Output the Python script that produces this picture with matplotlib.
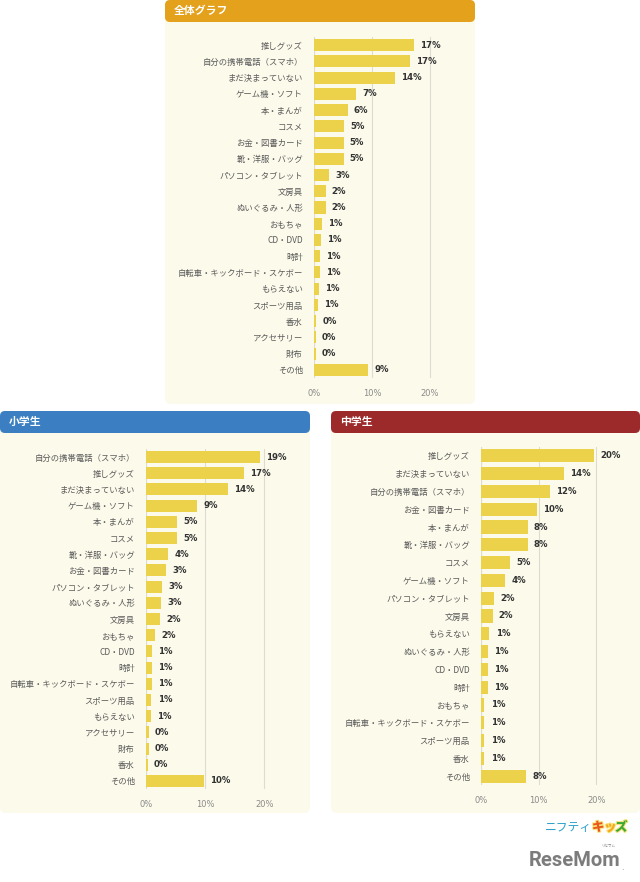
import matplotlib
matplotlib.use('Agg')
import matplotlib.pyplot as plt
import matplotlib.patheffects as pe
from matplotlib.patches import FancyBboxPatch
import numpy as np

plt.rcParams['font.family'] = ['Noto Sans CJK JP', 'DejaVu Sans']

# 全体グラフ
all_cats = ['推しグッズ', '自分の携帯電話（スマホ）', 'まだ決まっていない', 'ゲーム機・ソフト', '本・まんが',
            'コスメ', 'お金・図書カード', '靴・洋服・バッグ', 'パソコン・タブレット', '文房具',
            'ぬいぐるみ・人形', 'おもちゃ', 'CD・DVD', '時計', '自転車・キックボード・スケボー',
            'もらえない', 'スポーツ用品', '香水', 'アクセサリー', '財布', 'その他']
all_vals = [17.2, 16.6, 14.0, 7.2, 5.8, 5.2, 5.1, 5.1, 2.6, 2.0,
            2.0, 1.3, 1.15, 1.0, 1.0, 0.9, 0.7, 0.4, 0.3, 0.3, 9.3]

# 小学生
elem_cats = ['自分の携帯電話（スマホ）', '推しグッズ', 'まだ決まっていない', 'ゲーム機・ソフト', '本・まんが',
             'コスメ', '靴・洋服・バッグ', 'お金・図書カード', 'パソコン・タブレット', 'ぬいぐるみ・人形',
             '文房具', 'おもちゃ', 'CD・DVD', '時計', '自転車・キックボード・スケボー',
             'スポーツ用品', 'もらえない', 'アクセサリー', '財布', '香水', 'その他']
elem_vals = [19.3, 16.6, 13.8, 8.6, 5.2, 5.2, 3.8, 3.4, 2.7, 2.6,
             2.4, 1.6, 1.06, 1.0, 1.0, 0.9, 0.8, 0.45, 0.45, 0.3, 9.8]

# 中学生
jr_cats = ['推しグッズ', 'まだ決まっていない', '自分の携帯電話（スマホ）', 'お金・図書カード', '本・まんが',
           '靴・洋服・バッグ', 'コスメ', 'ゲーム機・ソフト', 'パソコン・タブレット', '文房具',
           'もらえない', 'ぬいぐるみ・人形', 'CD・DVD', '時計', 'おもちゃ',
           '自転車・キックボード・スケボー', 'スポーツ用品', '香水', 'その他']
jr_vals = [19.6, 14.4, 12.0, 9.7, 8.1, 8.1, 5.1, 4.2, 2.3, 2.0,
           1.45, 1.2, 1.2, 1.2, 0.6, 0.6, 0.6, 0.6, 7.8]

x_ticks = [0, 10, 20]
x_ticklabels = ['0%', '10%', '20%']

W, H = 640, 882
fig = plt.figure(figsize=(W / 100, H / 100), dpi=100)
fig.patch.set_facecolor('white')

bg = fig.add_axes([0, 0, 1, 1])
bg.set_xlim(0, W)
bg.set_ylim(H, 0)
bg.axis('off')

panel_bg = '#fcfaeb'
bar_color = '#ecd24b'
num_font = ['DejaVu Sans', 'Noto Sans CJK JP']


def panel(x0, x1, y0, y1, head_color, title):
    bg.add_patch(FancyBboxPatch((x0 + 6, y0 + 6), x1 - x0 - 12, y1 - y0 - 12,
                                boxstyle='round,pad=6', fc=panel_bg, ec='none'))
    bg.add_patch(FancyBboxPatch((x0 + 5, y0 + 5), x1 - x0 - 10, 12,
                                boxstyle='round,pad=5', fc=head_color, ec='none'))
    bg.text(x0 + 9, y0 + 11, title, color='white', fontsize=7.8, fontweight='bold',
            va='center', ha='left')


panel(165, 475, 0, 404, '#e3a11c', '全体グラフ')
panel(0, 310, 411, 813, '#3b7fc2', '小学生')
panel(331, 640, 411, 813, '#9d2a2a', '中学生')


def px_axes(x0, x1, y0, y1):
    return fig.add_axes([x0 / W, 1 - y1 / H, (x1 - x0) / W, (y1 - y0) / H])


def draw_bars(ax, cats, vals):
    n = len(cats)
    y = np.arange(n)
    ax.set_facecolor('none')
    ax.barh(y, vals, height=0.74, color=bar_color, zorder=2)
    ax.set_xlim(0, 25)
    ax.set_ylim(n - 0.5, -0.5)
    ax.set_yticks(y)
    ax.set_yticklabels(cats, fontsize=6.0, color='#5a5a5a')
    ax.set_xticks(x_ticks)
    ax.set_xticklabels(x_ticklabels, fontsize=6, color='#8a8a8a', family=num_font)
    ax.tick_params(length=0, pad=8)
    ax.tick_params(axis='x', pad=8)
    for s in ax.spines.values():
        s.set_visible(False)
    ax.grid(axis='x', color='#dedbd0', linewidth=0.8, zorder=0)
    ax.axvline(0, color='#cfcbbf', linewidth=0.8, zorder=1)
    for yi, v in zip(y, vals):
        ax.annotate(f'{v:.0f}%', (v, yi), xytext=(4.5, 0), textcoords='offset points',
                    va='center', ha='left', fontsize=6.2, fontweight='bold', color='#333333',
                    family=num_font)


ax_all = px_axes(314, 459, 37, 378)
draw_bars(ax_all, all_cats, all_vals)

ax_elem = px_axes(146, 294, 449, 789)
draw_bars(ax_elem, elem_cats, elem_vals)

ax_jr = px_axes(481, 625, 447, 785)
draw_bars(ax_jr, jr_cats, jr_vals)

# ロゴ
bg.text(545, 827, 'ニフティ', color='#2a9fc9', fontsize=8.5, va='center', ha='left')
for dx, ch, col in [(592, 'キ', '#e9551d'), (604, 'ッ', '#f3a81b'), (615, 'ズ', '#3aa936')]:
    bg.text(dx, 827, ch, color=col, fontsize=9, fontweight='black', va='center', ha='left',
            path_effects=[pe.withStroke(linewidth=1.5, foreground='#f7e27a')])
bg.text(529, 860, 'ReseMom', color='#7c7c7c', fontsize=14.5, fontweight='bold',
        family=['Roboto', 'DejaVu Sans'], va='center', ha='left')
bg.text(601, 846, 'リセマム', color='#7c7c7c', fontsize=2.5, va='center', ha='left')
bg.text(621, 867, '.', color='#7c7c7c', fontsize=6, va='center', ha='left')

fig.savefig('out.png', dpi=100, facecolor='white')
